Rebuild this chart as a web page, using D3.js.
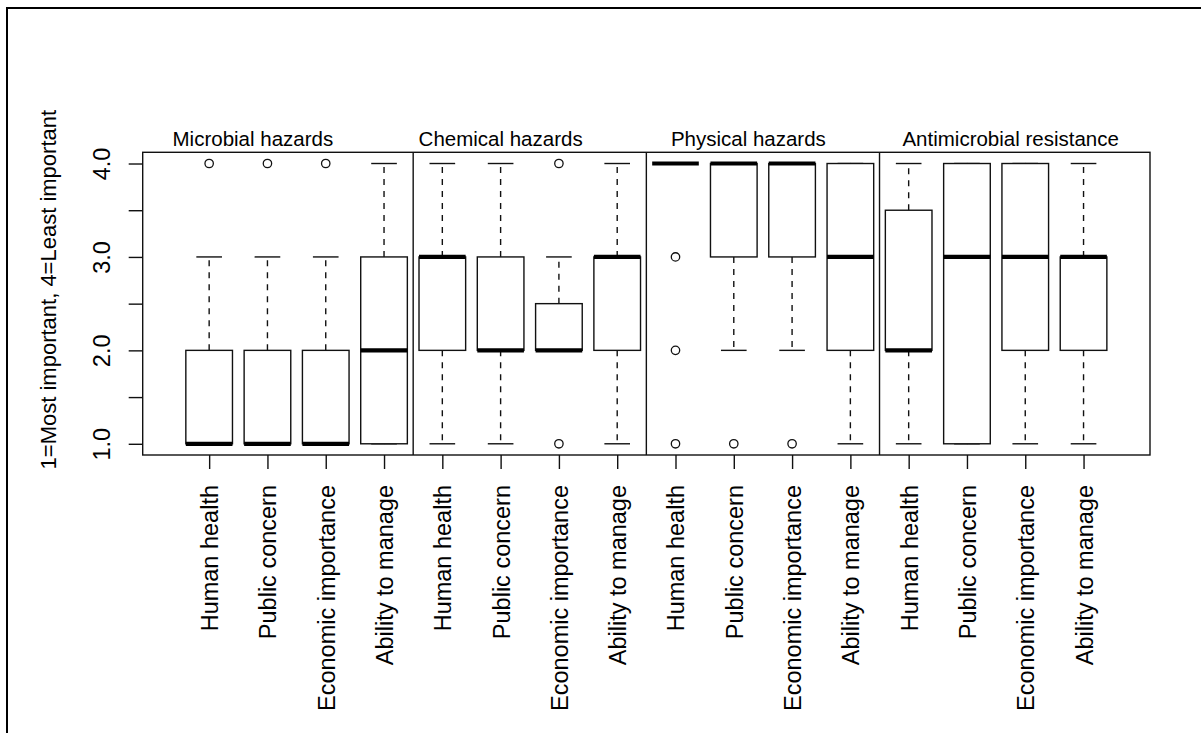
<!DOCTYPE html>
<html>
<head>
<meta charset="utf-8">
<script src="https://cdn.jsdelivr.net/npm/d3@7"></script>
<style>
  html, body { margin: 0; padding: 0; background: #fff; }
  svg { display: block; font-family: "Liberation Sans", Arial, sans-serif; }
</style>
</head>
<body>
<svg id="chart" width="1201" height="733"></svg>
<script>
// Hazard groups and the four ranking criteria scored within each group
const groups = ["Microbial hazards", "Chemical hazards", "Physical hazards", "Antimicrobial resistance"];
const criteria = ["Human health", "Public concern", "Economic importance", "Ability to manage"];

// Box statistics, one entry per box (groups in order, criteria within each group)
const lowerWhisker  = [1, 1, 1, 1,   1, 1, 2,   1,   4, 2, 2, 1,   1,   1, 1, 1];
const lowerQuartile = [1, 1, 1, 1,   2, 2, 2,   2,   4, 3, 3, 2,   2,   1, 2, 2];
const medians       = [1, 1, 1, 2,   3, 2, 2,   3,   4, 4, 4, 3,   2,   3, 3, 3];
const upperQuartile = [2, 2, 2, 3,   3, 3, 2.5, 3,   4, 4, 4, 4,   3.5, 4, 4, 3];
const upperWhisker  = [3, 3, 3, 4,   4, 4, 3,   4,   4, 4, 4, 4,   4,   4, 4, 4];
const outliers      = [[4], [4], [4], [],  [], [], [4, 1], [],  [3, 2, 1], [1], [1], [],  [], [], [], []];

// Y axis ticks; only whole ranks carry a label
const yTicks = [1, 1.5, 2, 2.5, 3, 3.5, 4];
const yLabelled = [1, 2, 3, 4];
const yTitle = "1=Most important, 4=Least important";

const boxes = groups.flatMap((g, gi) => criteria.map((c, ci) => {
  const i = gi * criteria.length + ci;
  return {
    pos: i + 1, group: g, label: c,
    lo: lowerWhisker[i], q1: lowerQuartile[i], med: medians[i],
    q3: upperQuartile[i], hi: upperWhisker[i], out: outliers[i]
  };
}));
const n = boxes.length;

const svg = d3.select("#chart");
const W = 1201, H = 733;
const plot = { left: 142.7, right: 1150, top: 152.3, bottom: 455 };

// Axis ranges padded 4% like a base-graphics box plot
const xPad = 0.04 * n, yPad = 0.04 * 3;
const x = d3.scaleLinear().domain([0.5 - xPad, n + 0.5 + xPad]).range([plot.left, plot.right]);
const y = d3.scaleLinear().domain([1 - yPad, 4 + yPad]).range([plot.bottom, plot.top]);

const unit = x(1) - x(0);
const boxW = 0.8 * unit;
const capW = 0.44 * unit;
const ink = "#111";

svg.append("rect").attr("width", W).attr("height", H).attr("fill", "#fff");

// Outer figure frame (top and left edges inside the view)
svg.append("path")
  .attr("d", `M7,${H + 5} L7,8 L${W + 5},8`)
  .attr("fill", "none").attr("stroke", "#000").attr("stroke-width", 2);

// Group separators
const sepPositions = d3.range(1, groups.length).map(k => k * criteria.length + 0.5);
svg.append("g").selectAll("line").data(sepPositions).join("line")
  .attr("x1", d => x(d)).attr("x2", d => x(d))
  .attr("y1", plot.top).attr("y2", plot.bottom)
  .attr("stroke", ink).attr("stroke-width", 1.4);

// Boxes
const bg = svg.append("g").selectAll("g").data(boxes).join("g");

// whiskers (dashed)
bg.append("line")
  .attr("x1", d => x(d.pos)).attr("x2", d => x(d.pos))
  .attr("y1", d => y(d.q3)).attr("y2", d => y(d.hi))
  .attr("stroke", ink).attr("stroke-width", 1.4).attr("stroke-dasharray", "6,6");
bg.append("line")
  .attr("x1", d => x(d.pos)).attr("x2", d => x(d.pos))
  .attr("y1", d => y(d.q1)).attr("y2", d => y(d.lo))
  .attr("stroke", ink).attr("stroke-width", 1.4).attr("stroke-dasharray", "6,6");

// staples
["hi", "lo"].forEach(k => {
  bg.append("line")
    .attr("x1", d => x(d.pos) - capW / 2).attr("x2", d => x(d.pos) + capW / 2)
    .attr("y1", d => y(d[k])).attr("y2", d => y(d[k]))
    .attr("stroke", ink).attr("stroke-width", 1.4);
});

// box body
bg.append("rect")
  .attr("x", d => x(d.pos) - boxW / 2).attr("width", boxW)
  .attr("y", d => y(d.q3)).attr("height", d => y(d.q1) - y(d.q3))
  .attr("fill", "#fff").attr("stroke", ink).attr("stroke-width", 1.4);

// median
bg.append("line")
  .attr("x1", d => x(d.pos) - boxW / 2).attr("x2", d => x(d.pos) + boxW / 2)
  .attr("y1", d => y(d.med)).attr("y2", d => y(d.med))
  .attr("stroke", "#000").attr("stroke-width", 4.2);

// outliers
bg.selectAll("circle").data(d => d.out.map(v => ({ pos: d.pos, v }))).join("circle")
  .attr("cx", d => x(d.pos)).attr("cy", d => y(d.v)).attr("r", 4.2)
  .attr("fill", "none").attr("stroke", ink).attr("stroke-width", 1.3);

// Plot border
svg.append("rect")
  .attr("x", plot.left).attr("y", plot.top)
  .attr("width", plot.right - plot.left).attr("height", plot.bottom - plot.top)
  .attr("fill", "none").attr("stroke", ink).attr("stroke-width", 1.4);

// Y axis
const yAxis = svg.append("g")
  .attr("transform", `translate(${plot.left},0)`)
  .call(d3.axisLeft(y).tickValues(yTicks).tickSize(14).tickSizeOuter(0)
    .tickFormat(d => yLabelled.includes(d) ? d3.format(".1f")(d) : ""));
yAxis.select(".domain").remove();
yAxis.selectAll(".tick line").attr("stroke", ink).attr("stroke-width", 1.4);
yAxis.selectAll(".tick text")
  .attr("x", null).attr("dy", null)
  .attr("transform", "translate(-40.7,0) rotate(-90)")
  .attr("text-anchor", "middle").attr("dy", "0.36em")
  .attr("font-size", 23.5).attr("font-family", "Liberation Sans, Arial, sans-serif")
  .attr("fill", "#000");

// X axis
const xAxis = svg.append("g")
  .attr("transform", `translate(0,${plot.bottom})`)
  .call(d3.axisBottom(x).tickValues(boxes.map(d => d.pos)).tickSize(14).tickSizeOuter(0)
    .tickFormat((d, i) => boxes[i].label));
xAxis.select(".domain").remove();
xAxis.selectAll(".tick line").attr("stroke", ink).attr("stroke-width", 1.4);
xAxis.selectAll(".tick text")
  .attr("y", null).attr("dy", null)
  .attr("transform", "translate(0,30) rotate(-90)")
  .attr("text-anchor", "end").attr("dy", "0.36em")
  .attr("font-size", 23.5).attr("font-family", "Liberation Sans, Arial, sans-serif")
  .attr("fill", "#000");

// Y axis title
svg.append("text")
  .attr("transform", `translate(48,${(plot.top + plot.bottom) / 2 - 14}) rotate(-90)`)
  .attr("text-anchor", "middle").attr("dy", "0.36em")
  .attr("font-size", 22).attr("fill", "#000")
  .text(yTitle);

// Group titles above the plot
const titleAt = [1.75, 6, 10.25, 14.75];
svg.append("g").selectAll("text").data(groups).join("text")
  .attr("x", (d, i) => x(titleAt[i])).attr("y", 146)
  .attr("text-anchor", "middle").attr("font-size", 20.5).attr("fill", "#000")
  .text(d => d);
</script>
</body>
</html>
